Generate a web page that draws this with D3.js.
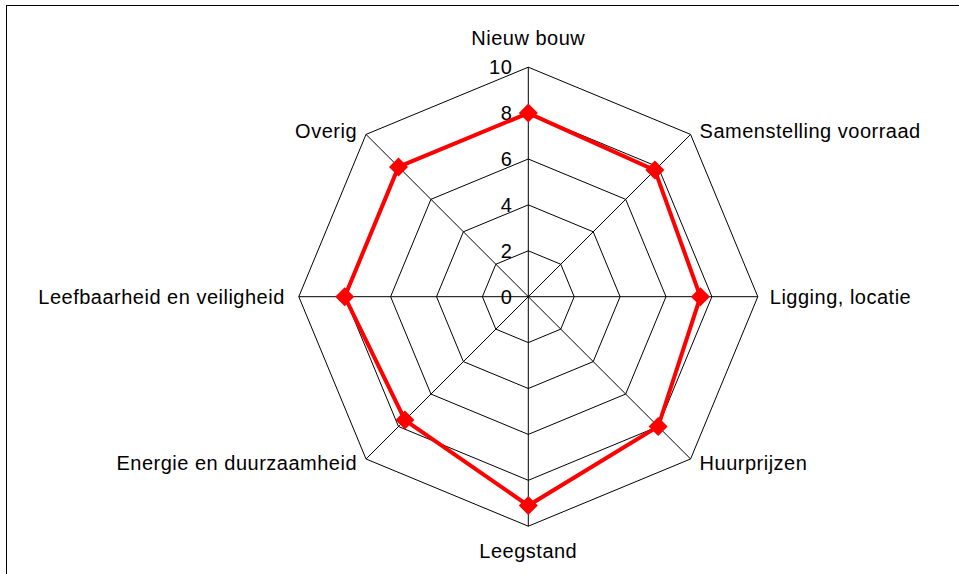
<!DOCTYPE html>
<html>
<head>
<meta charset="utf-8">
<script src="https://cdn.jsdelivr.net/npm/d3@7"></script>
<style>
html,body{margin:0;padding:0;background:#fff;}
svg{display:block;}
text{font-family:"Liberation Sans",Arial,sans-serif;fill:#000;}
</style>
</head>
<body>
<svg id="chart" width="959" height="574"></svg>
<script>
const categories = ["Nieuw bouw","Samenstelling voorraad","Ligging, locatie","Huurprijzen","Leegstand","Energie en duurzaamheid","Leefbaarheid en veiligheid","Overig"];
const values = [8.0, 7.8, 7.5, 8.0, 9.1, 7.6, 8.0, 8.0];
const tickValues = [0, 2, 4, 6, 8, 10];

const svg = d3.select("#chart");
const cx = 528.3, cy = 296.7, R = 229.5;
const r = d3.scaleLinear().domain([0, 10]).range([0, R]);
const n = categories.length;
const angle = d3.scaleLinear().domain([0, n]).range([0, 2 * Math.PI]);
const pt = (i, v) => [cx + r(v) * Math.sin(angle(i)), cy - r(v) * Math.cos(angle(i))];

// frame
svg.append("rect").attr("x", 6.5).attr("y", 5.5).attr("width", 1200).attr("height", 1200)
  .attr("fill", "none").attr("stroke", "#000").attr("stroke-width", 1);

const g = svg.append("g");
const line = d3.line();

// rings
tickValues.filter(t => t > 0).forEach(t => {
  const pts = d3.range(n).map(i => pt(i, t));
  g.append("path").attr("d", line(pts) + "Z").attr("fill", "none").attr("stroke", "#000").attr("stroke-width", 1);
});
// spokes
d3.range(n).forEach(i => {
  const [x, y] = pt(i, 10);
  g.append("line").attr("x1", cx).attr("y1", cy).attr("x2", x).attr("y2", y)
    .attr("stroke", "#000").attr("stroke-width", 1);
});

// tick labels
tickValues.forEach(t => {
  g.append("text").attr("x", cx - 16).attr("y", cy - r(t)).attr("dy", "0.36em")
    .attr("text-anchor", "end").attr("font-size", 20).attr("letter-spacing", 0.5).text(t);
});

// category labels
d3.range(n).forEach(i => {
  const [x, y] = pt(i, 10);
  const a = angle(i);
  const s = Math.sin(a), c = Math.cos(a);
  let anchor = "middle", tx = x, ty = y;
  if (Math.abs(s) < 0.01) {
    anchor = "middle";
    ty = c > 0 ? y - 29.5 : y + 25;
  } else if (s > 0) {
    anchor = "start"; tx = x + (Math.abs(c) < 0.01 ? 12 : 9); ty = y + (c > 0.01 ? -4 : (c < -0.01 ? 4 : 0));
  } else {
    anchor = "end"; tx = x - (Math.abs(c) < 0.01 ? 14 : 9); ty = y + (c > 0.01 ? -4 : (c < -0.01 ? 4 : 0));
  }
  g.append("text").attr("x", tx).attr("y", ty).attr("dy", "0.36em")
    .attr("text-anchor", anchor).attr("font-size", 20).attr("letter-spacing", 0.5).text(categories[i]);
});

// series
const spts = values.map((v, i) => pt(i, v));
g.append("path").attr("d", line(spts) + "Z").attr("fill", "none")
  .attr("stroke", "#ff0000").attr("stroke-width", 4).attr("stroke-linejoin", "miter");
const dm = 9.5;
g.selectAll(".mk").data(spts).enter().append("path")
  .attr("d", d => `M${d[0]},${d[1]-dm}L${d[0]+dm},${d[1]}L${d[0]},${d[1]+dm}L${d[0]-dm},${d[1]}Z`)
  .attr("fill", "#ff0000");
</script>
</body>
</html>
